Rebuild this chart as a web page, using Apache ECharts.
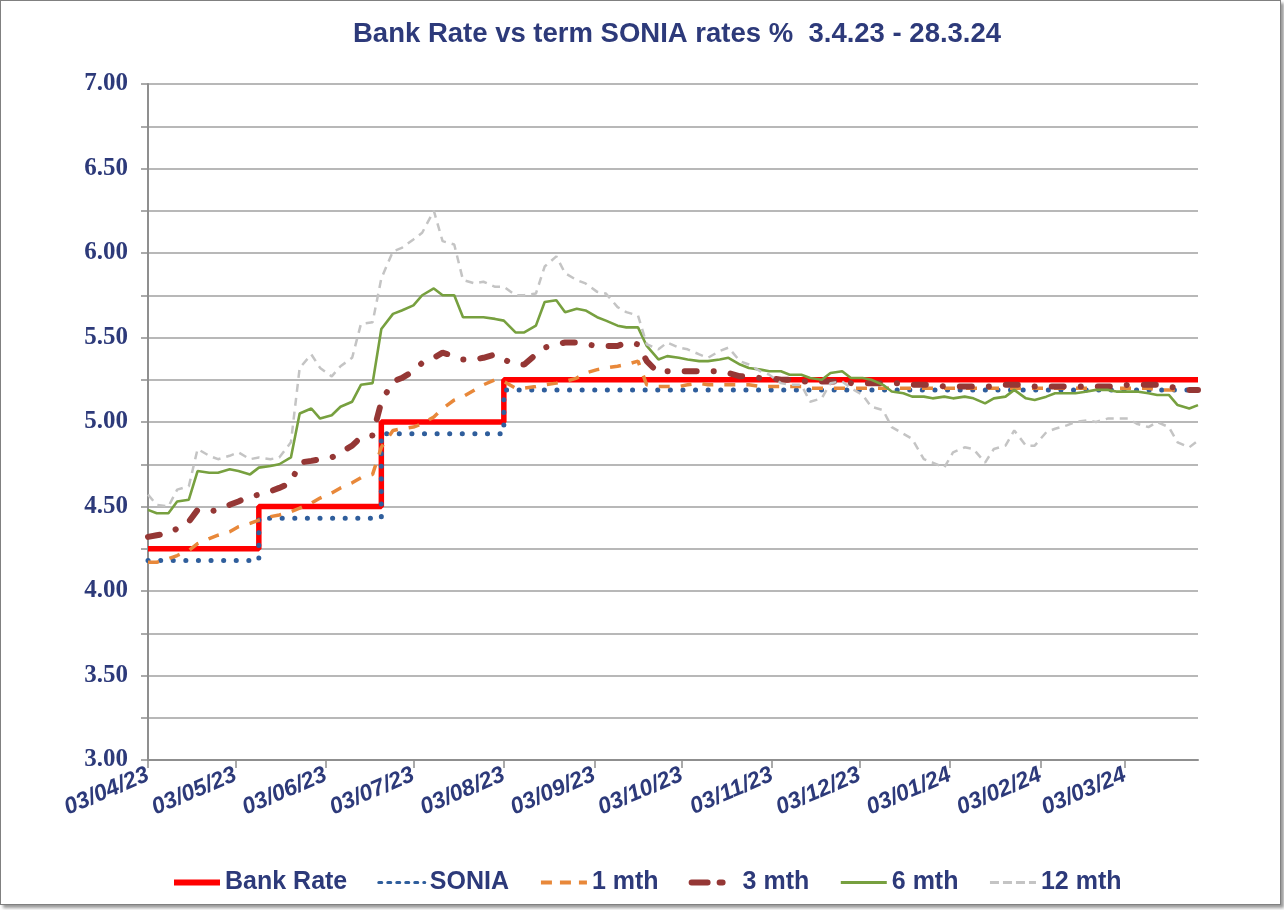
<!DOCTYPE html>
<html>
<head>
<meta charset="utf-8">
<script src="https://cdn.jsdelivr.net/npm/echarts@6/dist/echarts.min.js"></script>
<style>
  html, body { margin: 0; padding: 0; background: #ffffff; }
  #frame { position: absolute; left: 0; top: 0; width: 1279px; height: 903px; border: 1px solid #808080; box-shadow: 3px 3px 3px #9a9a9a; background: #fff; }
  #chart { width: 1279px; height: 903px; }
</style>
</head>
<body>
<div id="frame"><div id="chart"></div></div>
<script>
// ---- Data ----
const dates = [
'2023-04-03','2023-04-06','2023-04-10','2023-04-13','2023-04-17','2023-04-20','2023-04-24','2023-04-27',
'2023-05-01','2023-05-04','2023-05-08','2023-05-11','2023-05-15','2023-05-18','2023-05-22','2023-05-25','2023-05-29','2023-06-01',
'2023-06-05','2023-06-08','2023-06-12','2023-06-15','2023-06-19','2023-06-22','2023-06-26','2023-06-29',
'2023-07-03','2023-07-06','2023-07-10','2023-07-13','2023-07-17','2023-07-20','2023-07-24','2023-07-27','2023-07-31','2023-08-03',
'2023-08-07','2023-08-10','2023-08-14','2023-08-17','2023-08-21','2023-08-24','2023-08-28','2023-08-31',
'2023-09-04','2023-09-07','2023-09-11','2023-09-14','2023-09-18','2023-09-21','2023-09-25','2023-09-28',
'2023-10-02','2023-10-05','2023-10-09','2023-10-12','2023-10-16','2023-10-19','2023-10-23','2023-10-26','2023-10-30','2023-11-02',
'2023-11-06','2023-11-09','2023-11-13','2023-11-16','2023-11-20','2023-11-23','2023-11-27','2023-11-30',
'2023-12-04','2023-12-07','2023-12-11','2023-12-14','2023-12-18','2023-12-21','2023-12-25','2023-12-28',
'2024-01-01','2024-01-04','2024-01-08','2024-01-11','2024-01-15','2024-01-18','2024-01-22','2024-01-25','2024-01-29','2024-02-01',
'2024-02-05','2024-02-08','2024-02-12','2024-02-15','2024-02-19','2024-02-22','2024-02-26','2024-02-29',
'2024-03-04','2024-03-07','2024-03-11','2024-03-14','2024-03-18','2024-03-21','2024-03-25','2024-03-28'
];

const bankRateDates = ['2023-04-03','2023-05-11','2023-06-22','2023-08-03','2024-03-28'];
const bankRate      = [4.25, 4.50, 5.00, 5.25, 5.25];
const soniaDates    = ['2023-04-03','2023-05-11','2023-06-22','2023-08-03','2024-03-28'];
const sonia         = [4.18, 4.43, 4.93, 5.19, 5.19];

const oneMth = [
4.17,4.17, 4.19,4.21, 4.24,4.28, 4.31,4.33, 4.35,4.38, 4.40,4.42, 4.44,4.45, 4.47,4.49,
4.52,4.55, 4.58,4.61, 4.64,4.67, 4.69,4.85, 4.95,4.96, 4.97,4.99, 5.03,5.08, 5.13,5.15,
5.19,5.22, 5.25,5.24, 5.20,5.20, 5.21,5.22, 5.23,5.24, 5.26,5.29, 5.31,5.32, 5.33,5.34,
5.36,5.22, 5.21,5.21, 5.21,5.22, 5.23,5.22, 5.22,5.22, 5.22,5.22, 5.21,5.21, 5.21,5.21,
5.21,5.20, 5.20,5.20, 5.20,5.20, 5.20,5.20, 5.20,5.20, 5.20,5.20, 5.20,5.20, 5.20,5.20,
5.20,5.20, 5.20,5.20, 5.20,5.20, 5.20,5.20, 5.20,5.20, 5.20,5.20, 5.20,5.20, 5.20,5.20,
5.20,5.20, 5.20,5.19, 5.19,5.19
];

const threeMth = [
4.32,4.33, 4.34,4.37, 4.41,4.48, 4.47,4.48, 4.51,4.53, 4.56,4.57, 4.59,4.61, 4.64,4.76,
4.77,4.78, 4.79,4.82, 4.86,4.91, 4.92,5.12, 5.24,5.26, 5.30,5.35, 5.38,5.41, 5.39,5.37,
5.37,5.38, 5.40,5.37, 5.34,5.34, 5.40,5.44, 5.46,5.47, 5.47,5.46, 5.45,5.45, 5.45,5.47,
5.46,5.36, 5.29,5.30, 5.30,5.30, 5.30,5.30, 5.30,5.29, 5.27,5.27, 5.26,5.26, 5.25,5.25,
5.24,5.24, 5.24,5.24, 5.24,5.23, 5.23,5.23, 5.23,5.23, 5.23,5.22, 5.22,5.22, 5.21,5.21,
5.21,5.21, 5.21,5.21, 5.22,5.22, 5.22,5.21, 5.21,5.21, 5.21,5.21, 5.21,5.21, 5.21,5.21,
5.22,5.22, 5.22,5.22, 5.21,5.20, 5.19,5.19
];

const sixMth = [
4.48,4.46, 4.46,4.53, 4.54,4.71, 4.70,4.70, 4.72,4.71, 4.69,4.73, 4.74,4.75, 4.79,5.05,
5.08,5.02, 5.04,5.09, 5.12,5.22, 5.23,5.55, 5.64,5.66, 5.69,5.75, 5.79,5.75, 5.75,5.62,
5.62,5.62, 5.61,5.60, 5.53,5.53, 5.57,5.71, 5.72,5.65, 5.67,5.66, 5.62,5.60, 5.57,5.56,
5.56,5.45, 5.37,5.39, 5.38,5.37, 5.36,5.36, 5.37,5.38, 5.34,5.32, 5.31,5.30, 5.30,5.28,
5.28,5.26, 5.25,5.29, 5.30,5.26, 5.26,5.25, 5.22,5.18, 5.17,5.15, 5.15,5.14, 5.15,5.14,
5.15,5.14, 5.11,5.14, 5.15,5.19, 5.14,5.13, 5.15,5.17, 5.17,5.17, 5.18,5.19, 5.19,5.18,
5.18,5.18, 5.17,5.16, 5.16,5.10, 5.08,5.10
];

const twelveMth = [
4.57,4.51, 4.50,4.60, 4.62,4.84, 4.80,4.78, 4.80,4.82, 4.78,4.79, 4.78,4.79, 4.88,5.32,
5.40,5.32, 5.27,5.33, 5.38,5.58, 5.59,5.85, 6.01,6.03, 6.08,6.12, 6.25,6.07, 6.05,5.84,
5.82,5.83, 5.80,5.80, 5.75,5.75, 5.76,5.92, 5.98,5.88, 5.84,5.82, 5.77,5.76, 5.68,5.65,
5.63,5.46, 5.43,5.47, 5.44,5.43, 5.40,5.38, 5.42,5.44, 5.36,5.34, 5.30,5.28, 5.23,5.22,
5.22,5.12, 5.14,5.23, 5.24,5.20, 5.16,5.09, 5.07,4.97, 4.93,4.90, 4.78,4.76, 4.73,4.82,
4.85,4.84, 4.76,4.84, 4.86,4.95, 4.86,4.86, 4.94,4.96, 4.98,5.00, 5.01,5.00, 5.02,5.02,
5.02,4.99, 4.97,5.00, 4.97,4.88, 4.85,4.89
];

const tickDates = ['2023-04-03','2023-05-03','2023-06-03','2023-07-03','2023-08-03','2023-09-03',
                   '2023-10-03','2023-11-03','2023-12-03','2024-01-03','2024-02-03','2024-03-03'];
const startDate = '2023-04-03';
const endDate = '2024-03-28';
const seriesNames = ['Bank Rate','SONIA','1 mth','3 mth','6 mth','12 mth'];
const chartTitle = 'Bank Rate vs term SONIA rates %  3.4.23 - 28.3.24';

// ---- Helpers ----
function ts(s) { const p = s.split('-').map(Number); return new Date(p[0], p[1]-1, p[2]).getTime(); }
function pairs(ds, vs) { return vs.map((v, i) => [ts(ds[i]), v]); }
function fmtDate(v) {
  const d = new Date(v);
  const dd = String(d.getDate()).padStart(2,'0');
  const mm = String(d.getMonth()+1).padStart(2,'0');
  const yy = String(d.getFullYear() % 100).padStart(2,'0');
  return dd + '/' + mm + '/' + yy;
}

const navy = '#2d3a7a';
const styles = {
  'Bank Rate': { color: '#ff0000', width: 5.5, type: 'solid', cap: 'butt' },
  'SONIA':     { color: '#2f5e9c', width: 5, type: [0.1, 12.5], cap: 'round' },
  '1 mth':     { color: '#e8883a', width: 3.5, type: [11, 11], cap: 'butt' },
  '3 mth':     { color: '#953735', width: 6, type: [12, 17, 0.1, 17], cap: 'round' },
  '6 mth':     { color: '#77a03f', width: 2.6, type: 'solid', cap: 'butt' },
  '12 mth':    { color: '#c4c4c4', width: 2.5, type: [8, 6], cap: 'butt' }
};
const legendLine = {
  'Bank Rate': { color: '#ff0000', width: 6, type: 'solid' },
  'SONIA':     { color: '#2f5e9c', width: 3, type: [3, 6] },
  '1 mth':     { color: '#e8883a', width: 4, type: [11, 8] },
  '3 mth':     { color: '#953735', width: 6, type: [16, 12, 3, 20] },
  '6 mth':     { color: '#77a03f', width: 3, type: 'solid' },
  '12 mth':    { color: '#c4c4c4', width: 3, type: [9, 4] }
};

const chart = echarts.init(document.getElementById('chart'), null, { renderer: 'canvas' });

function mk(name, data, step) {
  const s = styles[name];
  const o = { name: name, type: 'line', symbol: 'none', data: data,
    lineStyle: { color: s.color, width: s.width, type: s.type, cap: s.cap },
    itemStyle: { color: s.color } };
  if (step) o.step = 'end';
  return o;
}

chart.setOption({
  animation: false,
  backgroundColor: '#ffffff',
  title: {
    text: chartTitle,
    left: 347,
    top: 14,
    textStyle: { fontFamily: 'Arial, Liberation Sans', fontWeight: 'bold', fontSize: 27.5, color: navy }
  },
  legend: {
    bottom: 4,
    left: 165,
    itemWidth: 46,
    itemHeight: 14,
    itemGap: 30,
    itemStyle: { opacity: 0, color: 'rgba(0,0,0,0)', borderWidth: 0 },
    data: seriesNames.map(n => ({ name: n, lineStyle: legendLine[n] })),
    textStyle: { fontFamily: 'Arial, Liberation Sans', fontWeight: 'bold', fontSize: 25, color: navy }
  },
  grid: { left: 147, right: 82, top: 83, bottom: 144, containLabel: false },
  xAxis: {
    type: 'value',
    min: ts(startDate),
    max: ts(endDate),
    splitLine: { show: false },
    axisLine: { show: true, lineStyle: { color: '#8f8f8f', width: 2 } },
    axisTick: { show: true, length: 8, lineStyle: { color: '#8f8f8f', width: 1.5 }, customValues: tickDates.map(ts) },
    axisLabel: {
      customValues: tickDates.map(ts),
      rotate: 23,
      margin: 14,
      fontFamily: 'Arial, Liberation Sans',
      fontWeight: 'bold',
      fontStyle: 'italic',
      fontSize: 23,
      color: navy,
      formatter: (v) => fmtDate(v)
    }
  },
  yAxis: {
    type: 'value',
    min: 3,
    max: 7,
    interval: 0.25,
    axisLine: { show: true, lineStyle: { color: '#8f8f8f', width: 2 } },
    axisTick: { show: true, length: 7, lineStyle: { color: '#8f8f8f', width: 1.5 } },
    splitLine: { show: true, lineStyle: { color: '#a0a0a0', width: 1.7 } },
    axisLabel: {
      margin: 20,
      fontFamily: 'Times New Roman, Liberation Serif',
      fontWeight: 'bold',
      fontSize: 25,
      color: navy,
      formatter: (v) => (Math.abs(v * 2 - Math.round(v * 2)) < 1e-6 ? v.toFixed(2) : '')
    }
  },
  series: [
    mk('Bank Rate', pairs(bankRateDates, bankRate), true),
    mk('SONIA', pairs(soniaDates, sonia), true),
    mk('1 mth', pairs(dates, oneMth)),
    mk('3 mth', pairs(dates, threeMth)),
    mk('6 mth', pairs(dates, sixMth)),
    mk('12 mth', pairs(dates, twelveMth))
  ]
});
</script>
</body>
</html>
